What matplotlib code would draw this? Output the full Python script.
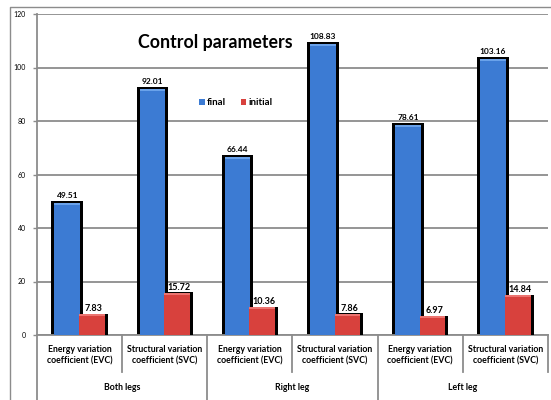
import numpy as np
import matplotlib.pyplot as plt
from matplotlib.patches import Rectangle
from matplotlib.lines import Line2D

plt.rcParams['font.family'] = ['Lato', 'DejaVu Sans']

categorias = ['Energy variation\ncoefficient (EVC)', 'Structural variation\ncoefficient (SVC)'] * 3
grupos = ['Both legs', 'Right leg', 'Left leg']
final = [49.51, 92.01, 66.44, 108.83, 78.61, 103.16]
inicial = [7.83, 15.72, 10.36, 7.86, 6.97, 14.84]

AZUL = '#3c7bd3'
VERMELHO = '#d8413d'
CINZA = '#8c8c8c'

fig = plt.figure(figsize=(5.51, 4), dpi=100)
ax = fig.add_axes([37 / 551, 1 - 335 / 400, 511 / 551, 321 / 400])

# moldura externa: só as bordas esquerda e superior
fig.add_artist(Line2D([10 / 551, 10 / 551, 1.0], [0.0, 1 - 7 / 400, 1 - 7 / 400],
                      transform=fig.transFigure, color=CINZA, linewidth=1.0))

x = np.arange(len(final))
larg = 0.3
desl = 0.145
px = 1 / 85.2  # um pixel em unidades de categoria
py = 1 / 2.675  # um pixel em unidades de valor

# sombras pretas atrás das barras
for xi, v in zip(x - desl, final):
    ax.add_patch(Rectangle((xi - larg / 2 - 3 * px, 0), larg + 6 * px, v + 2 * py,
                           facecolor='black', edgecolor='none', zorder=2))
ax.bar(x - desl, final, larg, color=AZUL, edgecolor='none', zorder=3)
for xi, v in zip(x - desl, final):
    ax.add_patch(Rectangle((xi - larg / 2, v - 2 * py), larg, 2 * py,
                           facecolor='#6aa2ea', edgecolor='none', zorder=3.5))

for xi, v in zip(x + desl, inicial):
    ax.add_patch(Rectangle((xi - larg / 2 + 3 * px, 0), larg, v + 0.5 * py,
                           facecolor='black', edgecolor='none', zorder=4))
ax.bar(x + desl, inicial, larg, color=VERMELHO, edgecolor='none', zorder=5)
for xi, v in zip(x + desl, inicial):
    ax.add_patch(Rectangle((xi - larg / 2, v - 2 * py), larg, 2 * py,
                           facecolor='#ec7470', edgecolor='none', zorder=5.5))

# rótulos de valor
for xi, v in zip(x - desl, final):
    ax.text(xi, v + 4 * py, f'{v:.2f}', ha='center', va='bottom', fontsize=6,
            fontweight='bold', zorder=6)
for xi, v in zip(x + desl, inicial):
    ax.text(xi + 2 * px, v + 1 * py, f'{v:.2f}', ha='center', va='bottom', fontsize=6.5,
            fontweight='bold', zorder=6)

ax.set_xlim(-0.5, 5.5)
ax.set_ylim(0, 120)
ax.set_yticks(range(0, 121, 20))
ax.tick_params(axis='y', labelsize=5, length=3, width=1, color=CINZA, pad=5)
ax.set_xticks([])
ax.grid(axis='y', color=CINZA, linewidth=1.3, zorder=0)
ax.set_axisbelow(True)
for lado in ['top', 'right']:
    ax.spines[lado].set_visible(False)
ax.spines['left'].set_color(CINZA)
ax.spines['bottom'].set_color(CINZA)
ax.spines['left'].set_linewidth(1.3)
ax.spines['bottom'].set_linewidth(1.3)

# eixo de categorias em dois níveis
trans = ax.get_xaxis_transform()
for b in np.arange(-0.5, 6, 1):
    fim = -77 / 321 if b in (-0.5, 1.5, 3.5) else -37 / 321
    ax.add_line(Line2D([b, b], [0, fim], transform=trans, color=CINZA, linewidth=1.3,
                       clip_on=False))
for xi, c in zip(x, categorias):
    ax.text(xi, -20 / 321, c, transform=trans, ha='center', va='center', fontsize=6.3,
            fontweight='bold', linespacing=1.35)
for i, g in enumerate(grupos):
    ax.text(2 * i + 0.5, -52 / 321, g, transform=trans, ha='center', va='center',
            fontsize=6.3, fontweight='bold')

ax.text(0.348, 0.91, 'Control parameters', transform=ax.transAxes, ha='center',
        va='center', fontsize=12.8, fontweight='bold')

alcas = [Rectangle((0, 0), 1, 1, facecolor=AZUL), Rectangle((0, 0), 1, 1, facecolor=VERMELHO)]
ax.legend(alcas, ['final', 'initial'], loc='center left', bbox_to_anchor=(0.3, 0.723),
          ncol=2, frameon=False, handlelength=0.6, handleheight=0.6,
          handletextpad=0.2, columnspacing=1.5, prop={'weight': 'bold', 'size': 7})

fig.savefig('out.png', dpi=100)
